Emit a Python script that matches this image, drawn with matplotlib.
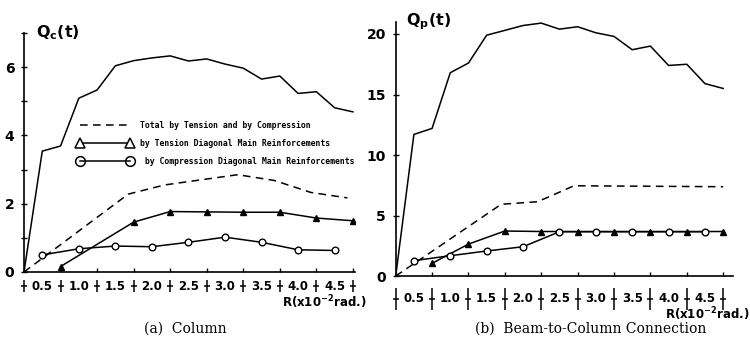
import matplotlib
matplotlib.use("Agg")
import matplotlib.pyplot as plt
import matplotlib.lines as mlines
import matplotlib.transforms as mtransforms

# loading stages (interval index), labels centred in each interval
stage_ticks = [0, 1, 2, 3, 4, 5, 6, 7, 8, 9]
stage_labels = ['0.5', '1.0', '1.5', '2.0', '2.5', '3.0', '3.5', '4.0', '4.5']

# peak shear, both half cycles
x_peak = [0, 0.5, 1, 1.5, 2, 2.5, 3, 3.5, 4, 4.5, 5, 5.5, 6, 6.5, 7, 7.5, 8, 8.5, 9]
qc_total = [0, 3.54, 3.69, 5.09, 5.33, 6.04, 6.19, 6.27, 6.33, 6.18, 6.24, 6.09,
            5.97, 5.65, 5.74, 5.23, 5.28, 4.81, 4.69]
qp_total = [0, 11.7, 12.2, 16.8, 17.6, 19.9, 20.3, 20.7, 20.9, 20.4, 20.6, 20.1,
            19.8, 18.7, 19.0, 17.4, 17.5, 15.9, 15.5]

# (a) column, diagonal main reinforcements
qc_sum_x = [0, 2.85, 3.85, 4.85, 5.85, 6.85, 7.85, 8.85]
qc_sum = [0, 2.28, 2.55, 2.7, 2.85, 2.68, 2.33, 2.17]
qc_ten_x = [1, 3, 4, 5, 6, 7, 8, 9]
qc_ten = [0.16, 1.46, 1.77, 1.76, 1.75, 1.75, 1.58, 1.5]
qc_com_x = [0.5, 1.5, 2.5, 3.5, 4.5, 5.5, 6.5, 7.5, 8.5]
qc_com = [0.5, 0.68, 0.76, 0.74, 0.87, 1.02, 0.87, 0.65, 0.63]

# (b) beam-to-column connection
qp_sum_x = [0, 2.9, 3.9, 4.9, 9.0]
qp_sum = [0, 5.93, 6.14, 7.46, 7.38]
qp_ten_x = [1, 2, 3, 4, 5, 6, 7, 8, 9]
qp_ten = [1.05, 2.64, 3.72, 3.68, 3.68, 3.68, 3.68, 3.68, 3.68]
qp_com_x = [0.5, 1.5, 2.5, 3.5, 4.5, 5.5, 6.5, 7.5, 8.5]
qp_com = [1.27, 1.68, 2.07, 2.42, 3.66, 3.66, 3.66, 3.66, 3.66]

lw = 1.1
tick_font = dict(fontsize=8.5, fontweight='bold', family='DejaVu Sans')


def draw_panel(ax, total, sx, s, tx, t, cx, c, ymax, yticks, ylabels, xmax,
               row_y, sep_size):
    ax.plot(x_peak, total, color='black', lw=lw)
    ax.plot(sx, s, color='black', lw=lw, ls=(0, (5, 3.5)))
    ax.plot(tx, t, color='black', lw=lw, marker='^', ms=4)
    ax.plot(cx, c, color='black', lw=lw, marker='o', ms=4.8,
            mfc='white', mew=1.0)
    ax.set_xlim(0, xmax)
    ax.set_ylim(0, ymax)
    for side in ['top', 'right']:
        ax.spines[side].set_visible(False)
    for side in ['left', 'bottom']:
        ax.spines[side].set_linewidth(1.2)
    ax.set_xticks(stage_ticks)
    ax.set_xticklabels([])
    ax.tick_params(axis='x', direction='in', length=3, width=1)
    ax.set_yticks(yticks)
    ax.set_yticklabels(ylabels)
    ax.tick_params(axis='y', direction='inout', length=4, width=1, pad=5,
                   labelsize=10)
    for lab in ax.get_yticklabels():
        lab.set_fontweight('bold')
    trans = mtransforms.blended_transform_factory(ax.transData, ax.transAxes)
    for i, lab in enumerate(stage_labels):
        ax.text(stage_ticks[i] + 0.5, row_y, lab, transform=trans,
                ha='center', va='center', **tick_font)
    ax.plot(stage_ticks, [row_y] * len(stage_ticks), ls='none', marker='|',
            ms=sep_size, mew=1.1, color='black', transform=trans, clip_on=False)
    ax.plot(stage_ticks, [row_y] * len(stage_ticks), ls='none', marker='_',
            ms=5, mew=1.1, color='black', transform=trans, clip_on=False)


fig = plt.figure(figsize=(7.5, 3.53), dpi=100)

ax1 = fig.add_axes([0.032, 0.2295, 0.441, 0.677])
draw_panel(ax1, qc_total, qc_sum_x, qc_sum, qc_ten_x, qc_ten, qc_com_x, qc_com,
           7.0, [0, 1, 2, 3, 4, 5, 6, 7], ['0', '', '2', '', '4', '', '6', ''],
           9.05, -0.06, 9)
ax1.text(0.035, 1.0, r'$\mathbf{Q_c(t)}$', transform=ax1.transAxes,
         fontsize=11.5, ha='left', va='center')
ax1.text(1.035, -0.125, r'R(x10$^{\mathbf{-2}}$rad.)', transform=ax1.transAxes,
         ha='right', va='center', **tick_font)

ax2 = fig.add_axes([0.5276, 0.218, 0.4497, 0.72])
draw_panel(ax2, qp_total, qp_sum_x, qp_sum, qp_ten_x, qp_ten, qp_com_x, qp_com,
           21.0, [0, 5, 10, 15, 20], ['0', '5', '10', '15', '20'],
           9.27, -0.09, 16)
ax2.text(0.03, 1.0, r'$\mathbf{Q_p(t)}$', transform=ax2.transAxes,
         fontsize=11.5, ha='left', va='center')
ax2.text(1.05, -0.15, r'R(x10$^{\mathbf{-2}}$rad.)', transform=ax2.transAxes,
         ha='right', va='center', **tick_font)

h_sum = mlines.Line2D([], [], color='black', lw=lw, ls=(0, (5, 3.5)))
h_ten = mlines.Line2D([], [], color='black', lw=lw, marker='^', ms=7,
                      mfc='white', mew=1.1)
h_com = mlines.Line2D([], [], color='black', lw=lw, marker='o', ms=7,
                      mfc='none', mew=1.1)
ax1.legend([h_sum, h_ten, h_com],
           ['Total by Tension and by Compression',
            'by Tension Diagonal Main Reinforcements',
            ' by Compression Diagonal Main Reinforcements'],
           loc='upper left', bbox_to_anchor=(0.163, 0.632), frameon=False,
           borderpad=0, borderaxespad=0, handlelength=6.6, handletextpad=0.95,
           labelspacing=1.1, numpoints=2,
           prop=dict(family='DejaVu Sans Mono', weight='bold', size=5.9))

fig.text(0.247, 0.07, '(a)  Column', ha='center', va='center',
         family='DejaVu Serif', fontsize=10)
fig.text(0.787, 0.07, '(b)  Beam-to-Column Connection', ha='center',
         va='center', family='DejaVu Serif', fontsize=10)

fig.savefig('out.png', dpi=100)
